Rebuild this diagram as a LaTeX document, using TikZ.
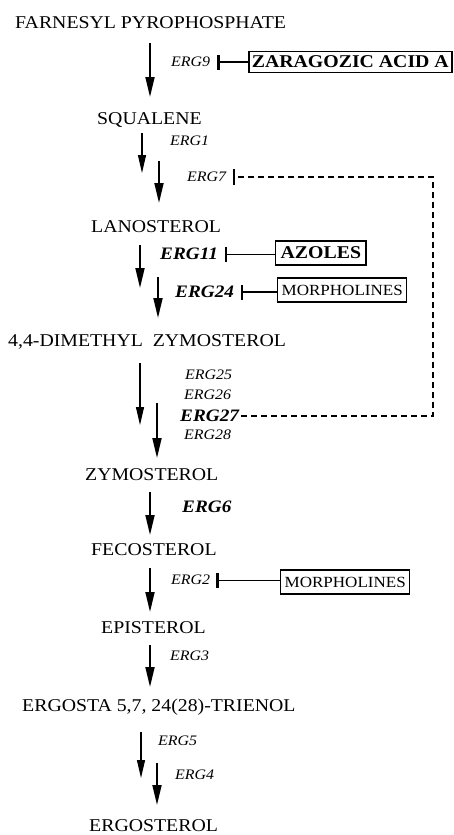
\documentclass[tikz,border=0pt]{standalone}
\usepackage{fontspec}
\setmainfont[FakeStretch=1.1]{Liberation Serif}
\usetikzlibrary{arrows.meta}

\tikzset{
  compound/.style={anchor=base west, inner sep=0pt, font=\fontsize{18}{20}\selectfont},
  gene/.style={anchor=west, inner sep=0pt, font=\fontsize{14.5}{16}\selectfont\itshape},
  keygene/.style={anchor=west, inner sep=0pt, font=\fontsize{17.5}{19}\selectfont\bfseries\itshape},
  drugbox/.style={draw, anchor=west, inner xsep=4pt, inner ysep=0pt},
  thinstep/.style={line width=1.1pt, -{Triangle[length=18pt,width=8pt]}},
  thickstep/.style={line width=1.8pt, -{Triangle[length=20pt,width=9pt]}},
  inhib/.style={line width=1pt, -{Bar[width=15pt,line width=2.2pt]}},
  feedback/.style={line width=1.5pt, dash pattern=on 6pt off 4pt},
}

\begin{document}
\begin{tikzpicture}[x=1pt, y=-1pt]
\useasboundingbox (0,0) rectangle (454,835);

% sterol intermediates
\node[compound] (fpp)  at (15,28)  {FARNESYL PYROPHOSPHATE};
\node[compound] (sq)   at (97,124) {SQUALENE};
\node[compound] (lan)  at (91,232) {LANOSTEROL};
\node[compound] (dmz)  at (8,346)  {4,4-DIMETHYL\ \ ZYMOSTEROL};
\node[compound] (zym)  at (85,480) {ZYMOSTEROL};
\node[compound] (fec)  at (91,555) {FECOSTEROL};
\node[compound] (epi)  at (101,633) {EPISTEROL};
\node[compound] (tri)  at (22,711) {ERGOSTA 5,7, 24(28)-TRIENOL};
\node[compound] (erg)  at (89,831) {ERGOSTEROL};

% enzymes
\node[gene]    (g9)  at (171,62)  {ERG9};
\node[gene]    (g1)  at (170,141) {ERG1};
\node[gene]    (g7)  at (187,177) {ERG7};
\node[keygene] (g11) at (160,254) {ERG11};
\node[keygene] (g24) at (175,292) {ERG24};
\node[gene]    (g25) at (185,375) {ERG25};
\node[gene]    (g26) at (184,395) {ERG26};
\node[keygene] (g27) at (180,416) {ERG27};
\node[gene]    (g28) at (184,435) {ERG28};
\node[keygene] (g6)  at (182,507) {ERG6};
\node[gene]    (g2)  at (171,580) {ERG2};
\node[gene]    (g3)  at (170,656) {ERG3};
\node[gene]    (g5)  at (158,741) {ERG5};
\node[gene]    (g4)  at (175,775) {ERG4};

% inhibitors
\node[drugbox, line width=1.8pt, inner xsep=3pt, minimum height=21pt, font=\fontsize{18}{20}\selectfont\bfseries] (zar) at (248,62) {ZARAGOZIC ACID A};
\node[drugbox, line width=1.4pt, inner xsep=5pt, minimum height=24pt, font=\fontsize{18}{20}\selectfont\bfseries] (azo) at (275,253) {AZOLES};
\node[drugbox, line width=1.2pt, minimum height=24pt, font=\fontsize{15.5}{17}\selectfont] (mor1) at (277,290) {MORPHOLINES};
\node[drugbox, line width=1.2pt, minimum height=24pt, font=\fontsize{15.5}{17}\selectfont] (mor2) at (280,582) {MORPHOLINES};

% reaction arrows
\coordinate (a1s) at (150,43);  \coordinate (a1e) at (150,97);
\coordinate (a2s) at (142,133); \coordinate (a2e) at (142,173);
\coordinate (a3s) at (159,161); \coordinate (a3e) at (159,203);
\coordinate (a4s) at (140,245); \coordinate (a4e) at (140,288);
\coordinate (a5s) at (158,277); \coordinate (a5e) at (158,318);
\coordinate (a6s) at (140,363); \coordinate (a6e) at (140,425);
\coordinate (a7s) at (157,403); \coordinate (a7e) at (157,458);
\coordinate (a8s) at (150,492); \coordinate (a8e) at (150,535);
\coordinate (a9s) at (150,568); \coordinate (a9e) at (150,612);
\coordinate (a10s) at (150,645); \coordinate (a10e) at (150,687);
\coordinate (a11s) at (141,732); \coordinate (a11e) at (141,778);
\coordinate (a12s) at (157,763); \coordinate (a12e) at (157,805);

\draw[thickstep] (a1s) -- (a1e);
\draw[thinstep]  (a2s) -- (a2e);
\draw[thickstep] (a3s) -- (a3e);
\draw[thickstep] (a4s) -- (a4e);
\draw[thickstep] (a5s) -- (a5e);
\draw[thinstep]  (a6s) -- (a6e);
\draw[thickstep] (a7s) -- (a7e);
\draw[thickstep] (a8s) -- (a8e);
\draw[thickstep] (a9s) -- (a9e);
\draw[thickstep] (a10s) -- (a10e);
\draw[thinstep]  (a11s) -- (a11e);
\draw[thickstep] (a12s) -- (a12e);

% inhibition, drawn level with each enzyme
\draw[inhib, line width=1.5pt] (g9.east -| zar.west) -- ([xshift=7pt]g9.east);
\draw[inhib] (g11.east -| azo.west) -- ([xshift=7pt]g11.east);
\draw[inhib, line width=1.4pt] (g24.east -| mor1.west) -- ([xshift=7pt]g24.east);
\draw[inhib] (g2.east -| mor2.west) -- ([xshift=6pt]g2.east);

% ERG27 feedback onto ERG7
\coordinate (fbtop) at (433,177);
\draw[feedback] ([xshift=2pt]g27.east) -| (fbtop) -- ([xshift=8pt]g7.east);
\draw[line width=2.2pt] ([xshift=8pt,yshift=-8pt]g7.east) -- ([xshift=8pt,yshift=8pt]g7.east);
\end{tikzpicture}
\end{document}
